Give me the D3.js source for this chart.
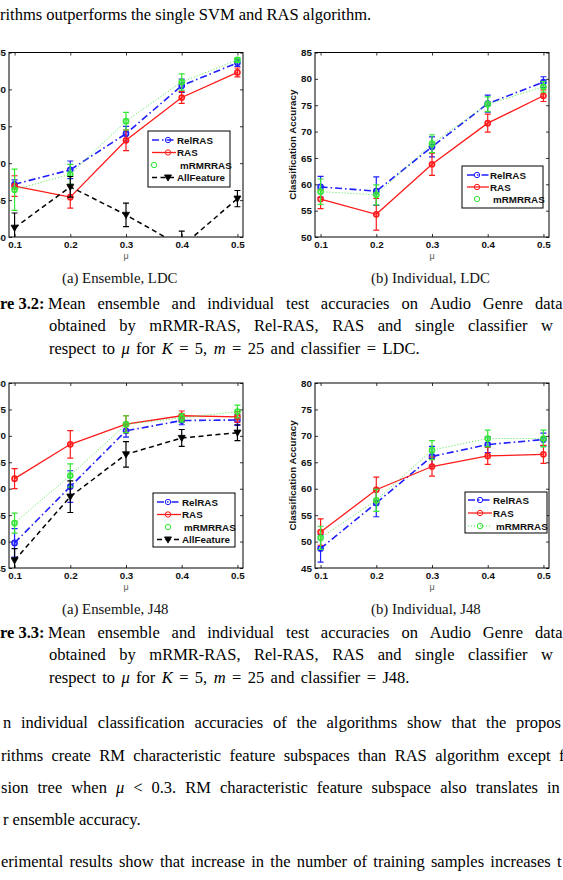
<!DOCTYPE html>
<html><head><meta charset="utf-8">
<script src="https://cdn.jsdelivr.net/npm/d3@7"></script>
<style>body{margin:0;background:#fff} svg{display:block}</style>
</head><body>
<svg id="page" width="563" height="880"></svg>
<script>
// ---------- data ----------
const mu = [0.1, 0.2, 0.3, 0.4, 0.5];
const xTickLabels = ["0.1", "0.2", "0.3", "0.4", "0.5"];
const seriesNames = ["RelRAS", "RAS", "mRMRRAS", "AllFeature"];

// (a) Ensemble, LDC
const ensLdcRelRAS = [67.15, 69.1, 74.0, 80.5, 83.6];
const ensLdcRelRASErr = [0.6, 1.2, 1.0, 0.9, 0.5];
const ensLdcRAS = [66.9, 65.4, 73.1, 78.9, 82.3];
const ensLdcRASErr = [1.4, 1.5, 1.4, 0.8, 0.6];
const ensLdcMrmr = [66.4, 68.5, 75.7, 81.0, 84.0];
const ensLdcMrmrErr = [2.8, 1.35, 1.2, 1.1, 0.3];
const ensLdcAll = [61.25, 66.8, 63.0, 58.7, 65.2];
const ensLdcAllErr = [2.0, 1.4, 1.6, 2.1, 1.1];
const ensLdcYTicks = [60, 65, 70, 75, 80, 85];

// (b) Individual, LDC
const indLdcRelRAS = [59.5, 58.7, 67.1, 75.3, 79.4];
const indLdcRelRASErr = [2.0, 2.7, 1.9, 1.6, 1.0];
const indLdcRAS = [57.2, 54.3, 63.8, 71.6, 76.8];
const indLdcRASErr = [1.8, 3.0, 2.1, 1.7, 1.1];
const indLdcMrmr = [58.6, 58.0, 67.7, 75.2, 78.5];
const indLdcMrmrErr = [2.4, 1.9, 1.7, 1.4, 1.0];
const indLdcYTicks = [50, 55, 60, 65, 70, 75, 80, 85];

// (a) Ensemble, J48
const ensJ48RelRAS = [49.75, 60.4, 70.95, 72.9, 73.0];
const ensJ48RelRASErr = [2.7, 3.0, 1.2, 0.8, 1.0];
const ensJ48RAS = [61.9, 68.4, 72.2, 73.8, 73.6];
const ensJ48RASErr = [1.9, 2.6, 1.6, 0.9, 1.0];
const ensJ48Mrmr = [53.5, 62.5, 72.2, 73.4, 74.6];
const ensJ48MrmrErr = [1.9, 2.2, 1.6, 0.8, 1.2];
const ensJ48All = [46.45, 58.5, 66.5, 69.6, 70.6];
const ensJ48AllErr = [2.2, 3.0, 2.4, 1.6, 1.5];
const ensJ48YTicks = [45, 50, 55, 60, 65, 70, 75, 80];

// (b) Individual, J48
const indJ48RelRAS = [48.7, 57.3, 66.1, 68.35, 69.3];
const indJ48RelRASErr = [2.6, 2.6, 1.9, 1.5, 1.2];
const indJ48RAS = [51.8, 59.8, 64.2, 66.2, 66.5];
const indJ48RASErr = [2.5, 2.4, 1.8, 1.6, 1.7];
const indJ48Mrmr = [50.7, 57.8, 67.3, 69.5, 69.5];
const indJ48MrmrErr = [2.2, 2.1, 1.8, 1.6, 1.6];
const indJ48YTicks = [45, 50, 55, 60, 65, 70, 75, 80];

// ---------- text ----------
const topLine = "rithms outperforms the single SVM and RAS algorithm.";
const cap32Lines = [
  "Mean ensemble and individual test accuracies on Audio Genre data",
  "obtained by mRMR-RAS, Rel-RAS, RAS and single classifier w",
  "respect to *μ for *K = 5, *m = 25 and classifier = LDC."
];
const cap33Lines = [
  "Mean ensemble and individual test accuracies on Audio Genre data",
  "obtained by mRMR-RAS, Rel-RAS, RAS and single classifier w",
  "respect to *μ for *K = 5, *m = 25 and classifier = J48."
];
const paraLines = [
  "n individual classification accuracies of the algorithms show that the propos",
  "rithms create RM characteristic feature subspaces than RAS algorithm except f",
  "sion tree when *μ < 0.3.  RM characteristic feature subspace also translates in",
  "r ensemble accuracy.",
  "erimental results show that increase in the number of training samples increases t"
];

// ---------- styles ----------
const styles = {
  RelRAS:     {color: "#1f1fff", width: 1.6, dash: "7,3,1.5,3", marker: "circle"},
  RAS:        {color: "#ff1a1a", width: 1.3, dash: null,        marker: "circle"},
  mRMRRAS:    {color: "#33e633", width: 0.9, dash: "1,2",       marker: "circle"},
  AllFeature: {color: "#000000", width: 1.5, dash: "5,3.5",     marker: "tri"}
};

const svg = d3.select("#page");
const SANS = "'Liberation Sans', Arial, sans-serif";
const SERIF = "'Liberation Serif', 'Times New Roman', serif";

function drawChart(cfg, idx) {
  const x = d3.scaleLinear().domain([0.09, 0.51]).range([cfg.left, cfg.right]);
  const y = d3.scaleLinear().domain([cfg.yTicks[0], cfg.yTicks[cfg.yTicks.length - 1]]).range([cfg.bottom, cfg.top]);
  const g = svg.append("g");
  const clipId = "clip" + idx;
  g.append("clipPath").attr("id", clipId).append("rect")
    .attr("x", cfg.left).attr("y", cfg.top)
    .attr("width", cfg.right - cfg.left).attr("height", cfg.bottom - cfg.top);

  // axes
  const fmt = (d, i) => xTickLabels[i];
  const axB = g.append("g").attr("transform", `translate(0,${cfg.bottom})`)
    .call(d3.axisBottom(x).tickValues(mu).tickFormat(fmt).tickSizeInner(-3).tickSizeOuter(0).tickPadding(4.5));
  const axT = g.append("g").attr("transform", `translate(0,${cfg.top})`)
    .call(d3.axisTop(x).tickValues(mu).tickFormat("").tickSizeInner(-3).tickSizeOuter(0));
  const axL = g.append("g").attr("transform", `translate(${cfg.left},0)`)
    .call(d3.axisLeft(y).tickValues(cfg.yTicks).tickSizeInner(-3).tickSizeOuter(0).tickPadding(3));
  const axR = g.append("g").attr("transform", `translate(${cfg.right},0)`)
    .call(d3.axisRight(y).tickValues(cfg.yTicks).tickFormat("").tickSizeInner(-3).tickSizeOuter(0));
  [axB, axT, axL, axR].forEach(a => {
    a.select(".domain").remove();
    a.selectAll("line").attr("stroke", "#000").attr("stroke-width", 0.8);
    a.selectAll("text").attr("font-family", SANS).attr("font-weight", "bold")
      .attr("font-size", 9.8).attr("fill", "#111");
  });
  g.append("rect").attr("x", cfg.left).attr("y", cfg.top)
    .attr("width", cfg.right - cfg.left).attr("height", cfg.bottom - cfg.top)
    .attr("fill", "none").attr("stroke", "#000").attr("stroke-width", 1);

  // data
  const plot = g.append("g").attr("clip-path", `url(#${clipId})`);
  const line = d3.line().x(d => x(d.m)).y(d => y(d.v));
  cfg.series.forEach(s => {
    const st = styles[s.name];
    const pts = mu.map((m, i) => ({m, v: s.values[i], e: s.errs[i]}));
    plot.append("path").datum(pts).attr("d", line)
      .attr("fill", "none").attr("stroke", st.color).attr("stroke-width", st.width)
      .attr("stroke-dasharray", st.dash);
    pts.forEach(p => {
      const px = x(p.m), y1 = y(p.v - p.e), y2 = y(p.v + p.e);
      plot.append("path")
        .attr("d", `M${px},${y1}V${y2}M${px - 3},${y1}H${px + 3}M${px - 3},${y2}H${px + 3}`)
        .attr("stroke", st.color).attr("stroke-width", 1.2).attr("fill", "none");
    });
    pts.forEach(p => drawMarker(plot, st, x(p.m), y(p.v), true));
  });

  // legend
  const L = cfg.legend;
  const lg = g.append("g");
  lg.append("rect").attr("x", L.x).attr("y", L.y).attr("width", L.w).attr("height", L.h)
    .attr("fill", "#fff").attr("stroke", "#000").attr("stroke-width", 1);
  cfg.series.forEach((s, i) => {
    const st = styles[s.name];
    const ry = L.rows[i];
    if (s.name !== "mRMRRAS" || L.showGreenLine) {
      lg.append("line").attr("x1", L.l1).attr("x2", L.l2).attr("y1", ry).attr("y2", ry)
        .attr("stroke", st.color).attr("stroke-width", st.width).attr("stroke-dasharray", st.dash);
    }
    const mx = s.name === "mRMRRAS" ? L.gmx : L.mx;
    const tx = s.name === "mRMRRAS" ? L.gtx : L.tx;
    drawMarker(lg, st, mx, ry, false);
    lg.append("text").attr("x", tx).attr("y", ry).attr("dy", "0.36em")
      .attr("font-family", SANS).attr("font-weight", "bold").attr("font-size", 9.8)
      .attr("fill", "#111").text(s.name);
  });

  // labels
  g.append("text").attr("x", (cfg.left + cfg.right) / 2).attr("y", cfg.muY)
    .attr("text-anchor", "middle").attr("font-family", SANS).attr("font-size", 9)
    .attr("fill", "#555").text("μ");
  if (cfg.ylabel) {
    g.append("text").attr("transform", `translate(293,${(cfg.top + cfg.bottom) / 2}) rotate(-90)`)
      .attr("text-anchor", "middle").attr("dy", "0.35em")
      .attr("font-family", SANS).attr("font-weight", "bold").attr("font-size", 9.8)
      .attr("fill", "#111").text("Classification Accuracy");
  }
  g.append("text").attr("x", cfg.capX).attr("y", cfg.capY)
    .attr("font-family", SERIF).attr("font-size", 14.8).attr("fill", "#111")
    .text(cfg.caption);
}

function drawMarker(sel, st, cx, cy, onData) {
  if (st.marker === "circle") {
    sel.append("circle").attr("cx", cx).attr("cy", cy).attr("r", onData ? 2.6 : 2.7)
      .attr("fill", onData ? st.color : "none").attr("fill-opacity", onData ? 0.35 : 0)
      .attr("stroke", st.color).attr("stroke-width", onData ? 1.5 : 1);
  } else {
    sel.append("path").attr("d", `M${cx - 3.5},${cy - 2.6}L${cx + 3.5},${cy - 2.6}L${cx},${cy + 3.6}Z`)
      .attr("fill", st.color).attr("stroke", st.color).attr("stroke-width", 0.8);
  }
}

function mk(names, arrs) { return names.map((n, i) => ({name: n, values: arrs[i][0], errs: arrs[i][1]})); }

const charts = [
  {left: 9, right: 243, top: 52.5, bottom: 237, yTicks: ensLdcYTicks, ylabel: false,
   series: mk(seriesNames, [[ensLdcRelRAS, ensLdcRelRASErr], [ensLdcRAS, ensLdcRASErr], [ensLdcMrmr, ensLdcMrmrErr], [ensLdcAll, ensLdcAllErr]]),
   legend: {x: 148, y: 131, w: 82, h: 56, rows: [140, 152.5, 165, 177.5], l1: 152, l2: 176, mx: 168, tx: 177, gmx: 154, gtx: 180},
   muY: 259, caption: "(a) Ensemble, LDC", capX: 62, capY: 283},
  {left: 315, right: 549, top: 52.5, bottom: 237, yTicks: indLdcYTicks, ylabel: true,
   series: mk(seriesNames.slice(0, 3), [[indLdcRelRAS, indLdcRelRASErr], [indLdcRAS, indLdcRASErr], [indLdcMrmr, indLdcMrmrErr]]),
   legend: {x: 462, y: 166, w: 81, h: 42, rows: [175, 187, 199], l1: 467, l2: 489, mx: 477, tx: 490, gmx: 477, gtx: 493},
   muY: 259, caption: "(b) Individual, LDC", capX: 371, capY: 283},
  {left: 9, right: 243, top: 383, bottom: 568, yTicks: ensJ48YTicks, ylabel: false,
   series: mk(seriesNames, [[ensJ48RelRAS, ensJ48RelRASErr], [ensJ48RAS, ensJ48RASErr], [ensJ48Mrmr, ensJ48MrmrErr], [ensJ48All, ensJ48AllErr]]),
   legend: {x: 153, y: 493, w: 82, h: 54, rows: [502, 514.5, 527, 539.5], l1: 157, l2: 181, mx: 168, tx: 182, gmx: 168, gtx: 184},
   muY: 590, caption: "(a) Ensemble, J48", capX: 62, capY: 614},
  {left: 315, right: 549, top: 383, bottom: 568, yTicks: indJ48YTicks, ylabel: true,
   series: mk(seriesNames.slice(0, 3), [[indJ48RelRAS, indJ48RelRASErr], [indJ48RAS, indJ48RASErr], [indJ48Mrmr, indJ48MrmrErr]]),
   legend: {x: 465, y: 492, w: 82, h: 41, rows: [500, 513, 526], l1: 468, l2: 492, mx: 480, tx: 493, gmx: 480, gtx: 496, showGreenLine: true},
   muY: 590, caption: "(b) Individual, J48", capX: 371, capY: 614}
];
charts.forEach(drawChart);

// ---------- body text ----------
const tg = svg.append("g").attr("font-family", SERIF).attr("font-size", 16.5).attr("fill", "#000");
function setLine(str, x0, y, lastStart, gapNatural) {
  const words = str.split(/ +/);
  const nodes = words.map(w => {
    const it = w.startsWith("*");
    return tg.append("text").attr("y", y).attr("font-style", it ? "italic" : null).text(it ? w.slice(1) : w);
  });
  const widths = nodes.map(n => n.node().getComputedTextLength());
  let gap = gapNatural == null ? 4 : gapNatural;
  if (lastStart != null) {
    const sum = widths.slice(0, -1).reduce((a, b) => a + b, 0);
    gap = (lastStart - x0 - sum) / (words.length - 1);
  }
  let xx = x0;
  nodes.forEach((n, i) => { n.attr("x", xx); xx += widths[i] + gap; });
}
setLine(topLine, 0, 20, null, 4.1);

function caption(num, lines, y0) {
  tg.append("text").attr("x", 0).attr("y", y0).attr("font-weight", "bold").text("re " + num + ":");
  setLine(lines[0], 48, y0, 535);
  setLine(lines[1], 49, y0 + 22, 541);
  setLine(lines[2], 49, y0 + 44.5, null, 6.4);
}
caption("3.2", cap32Lines, 309);
caption("3.3", cap33Lines, 638);

setLine(paraLines[0], 3, 728, 516);
setLine(paraLines[1], 1, 761, 559);
setLine(paraLines[2], 1, 793, 547);
setLine(paraLines[3], 3, 825, null, 4.1);
setLine(paraLines[4], 1, 867, 557);
</script>
</body></html>
